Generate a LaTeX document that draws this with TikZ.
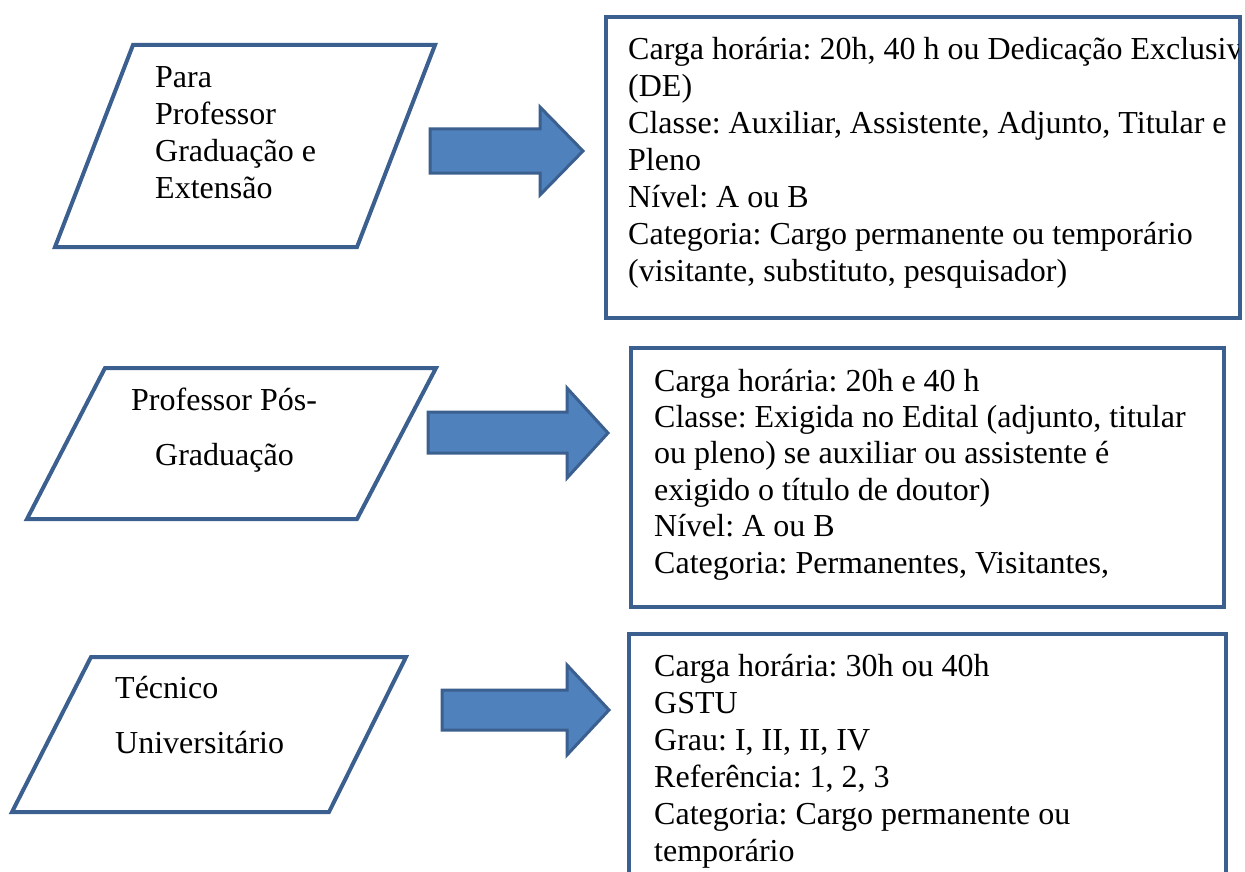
\documentclass[tikz,border=0pt]{standalone}
\usepackage{fontspec}
\setmainfont{Liberation Serif}
\frenchspacing
\definecolor{bord}{HTML}{3B5F8E}
\definecolor{afill}{HTML}{4F81BD}
\begin{document}
\begin{tikzpicture}[x=1pt,y=-1pt,
  shapeline/.style={draw=bord,line width=4pt,line join=miter},
  blockarrow/.style={draw=bord,fill=afill,line width=3pt,line join=miter},
  txt/.style={anchor=base west,inner sep=0pt,align=left,font=\fontsize{32}{37}\selectfont},
  txtb/.style={anchor=base west,inner sep=0pt,align=left,font=\fontsize{32}{36.4}\selectfont}]
\useasboundingbox (0,0) rectangle (1245,872);
% parallelograms
\draw[shapeline] (133,45) -- (435,45) -- (357,247) -- (55,247) -- cycle;
\draw[shapeline] (105,368) -- (436,368) -- (357,519) -- (27,519) -- cycle;
\draw[shapeline] (91,657) -- (406,657) -- (329,812) -- (12,812) -- cycle;
% last-line baselines
\node[txt] (p1) at (155,198) {Para\\Professor\\Graduação e\\Extensão};
\node[txt] (p2a) at (131,410) {Professor Pós-};
\node[txt] (p2b) at (155,465) {Graduação};
\node[txt] (p3a) at (115,698) {Técnico};
\node[txt] (p3b) at (115,753) {Universitário};
% arrows
\draw[blockarrow] (430,129) -- (540,129) -- (540,107) -- (583,151) -- (540,195) -- (540,173) -- (430,173) -- cycle;
\draw[blockarrow] (428,412) -- (567,412) -- (567,388) -- (608,433) -- (567,478) -- (567,453) -- (428,453) -- cycle;
\draw[blockarrow] (442,690) -- (567,690) -- (567,665) -- (609,710) -- (567,755) -- (567,730) -- (442,730) -- cycle;
% boxes
\draw[shapeline] (606,17) rectangle (1240,318);
\draw[shapeline] (631,348) rectangle (1224,607);
\draw[shapeline] (629,900) -- (629,634) -- (1226,634) -- (1226,900);
\begin{scope}
\clip (606,17) rectangle (1238,318);
\node[txt] (b1) at (628,281) {Carga horária: 20h, 40 h ou Dedicação Exclusiva\\(DE)\\Classe: Auxiliar, Assistente, Adjunto, Titular e\\Pleno\\Nível: A ou B\\Categoria: Cargo permanente ou temporário\\(visitante, substituto, pesquisador)};
\end{scope}
\node[txtb] (b2) at (654,573) {Carga horária: 20h e 40 h\\Classe: Exigida no Edital (adjunto, titular\\ou pleno) se auxiliar ou assistente é\\exigido o título de doutor)\\Nível: A ou B\\Categoria: Permanentes, Visitantes,};
\node[txt] (b3) at (654,861) {Carga horária: 30h ou 40h\\GSTU\\Grau: I, II, II, IV\\Referência: 1, 2, 3\\Categoria: Cargo permanente ou\\temporário};
\end{tikzpicture}
\end{document}
